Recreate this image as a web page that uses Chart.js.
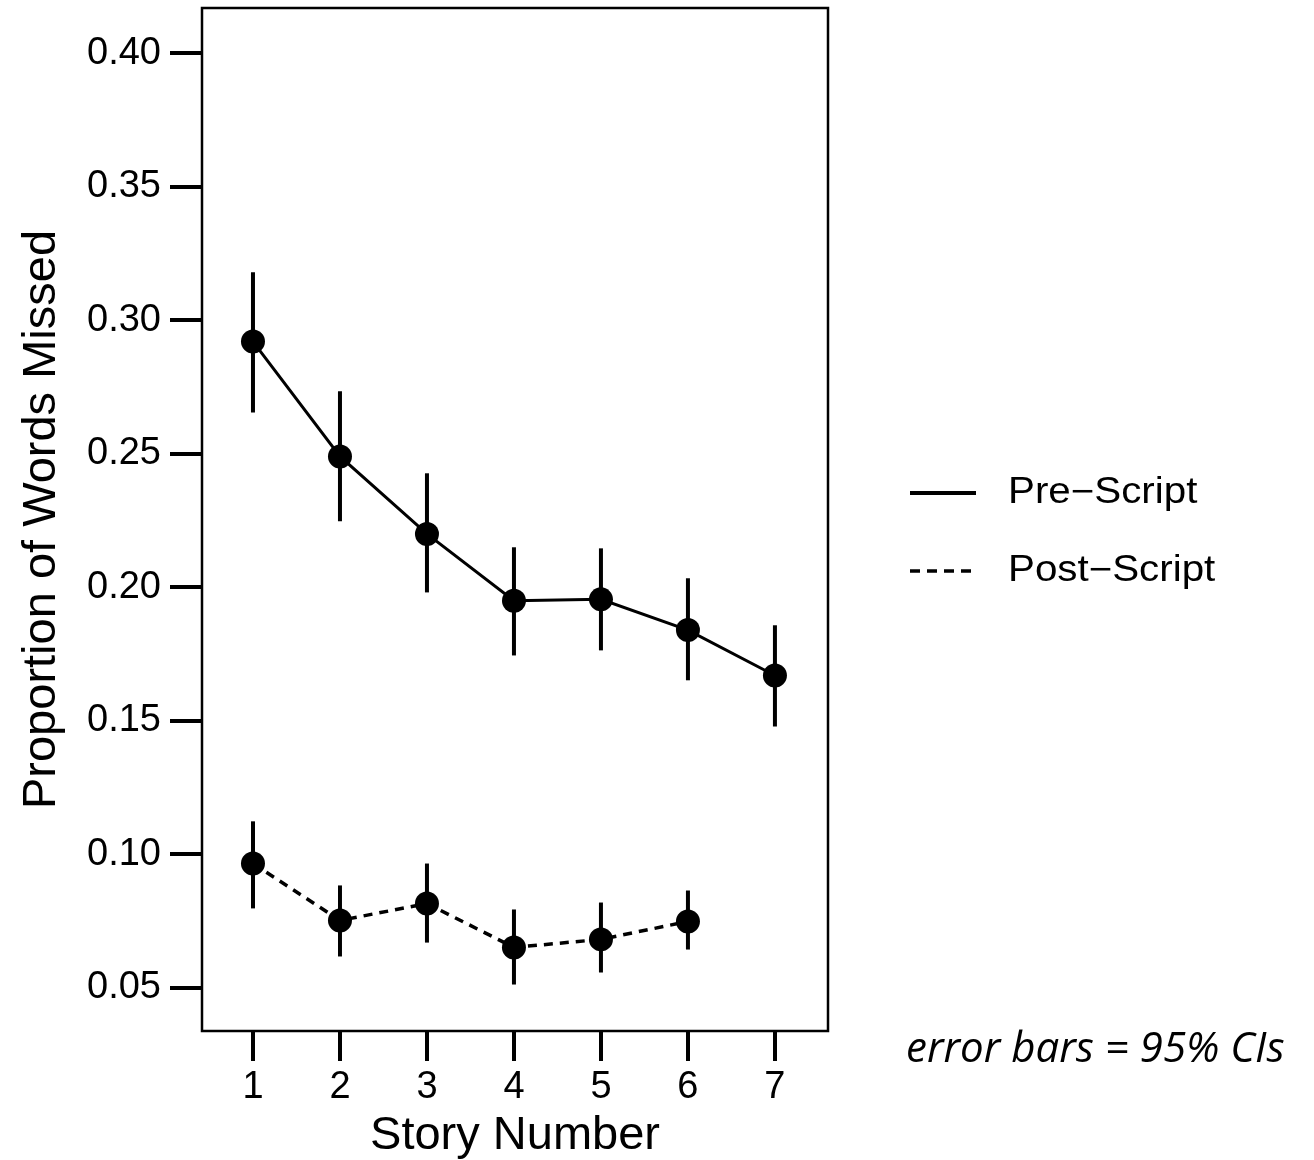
<!DOCTYPE html>
<html>
<head>
<meta charset="utf-8">
<script src="https://cdn.jsdelivr.net/npm/chart.js@4"></script>
<style>
  html, body { margin: 0; padding: 0; background: #fff; }
  #wrap { width: 1314px; height: 1160px; }
</style>
</head>
<body>
<div id="wrap"><canvas id="chart" width="1314" height="1160"></canvas></div>
<script>
// story numbers on the x axis
var stories = [1, 2, 3, 4, 5, 6, 7];
var yTickValues = [0.05, 0.10, 0.15, 0.20, 0.25, 0.30, 0.35, 0.40];

// pre-script: mean and 95% CI
var preMean = [0.292, 0.249, 0.220, 0.195, 0.1955, 0.184, 0.167];
var preLow  = [0.2655, 0.2247, 0.1981, 0.1745, 0.1764, 0.1652, 0.1479];
var preHigh = [0.318, 0.2734, 0.2427, 0.215, 0.2146, 0.2034, 0.1858];

// post-script: mean and 95% CI (no story 7)
var postStories = [1, 2, 3, 4, 5, 6];
var postMean = [0.0966, 0.0753, 0.0816, 0.0652, 0.0682, 0.0749];
var postLow  = [0.0798, 0.0618, 0.067, 0.0513, 0.0558, 0.0644];
var postHigh = [0.1124, 0.0884, 0.0966, 0.0794, 0.082, 0.0865];

var seriesNames = ["Pre\u2212Script", "Post\u2212Script"];

function toPoints(xs, ys, lo, hi) {
    var pts = [];
    for (var i = 0; i < ys.length; i++) {
        pts.push({x: xs[i], y: ys[i], lo: lo[i], hi: hi[i]});
    }
    return pts;
}

var tickFont = {family: "'Liberation Sans', Arial, sans-serif", size: 38};
var titleFont = {family: "'Liberation Sans', Arial, sans-serif", size: 47};

// vertical CI lines drawn through the scales
var errorBars = {
    id: 'errorBars',
    beforeDatasetsDraw: function (chart) {
        var ctx = chart.ctx;
        var xs = chart.scales.x, ys = chart.scales.y;
        ctx.save();
        ctx.strokeStyle = '#000';
        ctx.lineWidth = 4;
        chart.data.datasets.forEach(function (ds) {
            ds.data.forEach(function (p) {
                var px = xs.getPixelForValue(p.x);
                ctx.beginPath();
                ctx.moveTo(px, ys.getPixelForValue(p.lo));
                ctx.lineTo(px, ys.getPixelForValue(p.hi));
                ctx.stroke();
            });
        });
        ctx.restore();
    }
};

// full box round the plot, legend on the right and the CI note
var boxAndLegend = {
    id: 'boxAndLegend',
    afterDraw: function (chart) {
        var ctx = chart.ctx;
        var a = chart.chartArea;
        ctx.save();
        ctx.strokeStyle = '#000';
        ctx.lineWidth = 2.5;
        ctx.strokeRect(a.left, a.top, a.right - a.left, a.bottom - a.top);

        ctx.fillStyle = '#000';
        ctx.textBaseline = 'middle';
        ctx.lineWidth = 4;
        ctx.beginPath();
        ctx.moveTo(910, 493);
        ctx.lineTo(976, 493);
        ctx.stroke();

        ctx.lineWidth = 3.5;
        ctx.setLineDash([10, 7]);
        ctx.beginPath();
        ctx.moveTo(910, 571);
        ctx.lineTo(976, 571);
        ctx.stroke();
        ctx.setLineDash([]);

        // legend text is a little wide in the original
        ctx.font = "36px 'Liberation Sans', Arial, sans-serif";
        [[seriesNames[0], 493], [seriesNames[1], 571]].forEach(function (it) {
            ctx.save();
            ctx.translate(1008, it[1]);
            ctx.scale(1.12, 1);
            ctx.fillText(it[0], 0, 0);
            ctx.restore();
        });

        ctx.font = "italic 42px 'Open Sans', sans-serif";
        ctx.fillText("error bars = 95% CIs", 906, 1050);
        ctx.restore();
    }
};

var ctx = document.getElementById('chart').getContext('2d');
var chart = new Chart(ctx, {
    type: 'line',
    data: {
        datasets: [{
            label: seriesNames[0],
            data: toPoints(stories, preMean, preLow, preHigh),
            borderColor: '#000',
            backgroundColor: '#000',
            borderWidth: 3,
            pointRadius: 12,
            pointBorderWidth: 0,
            tension: 0
        }, {
            label: seriesNames[1],
            data: toPoints(postStories, postMean, postLow, postHigh),
            borderColor: '#000',
            backgroundColor: '#000',
            borderWidth: 3.5,
            borderDash: [9, 7],
            pointRadius: 12,
            pointBorderWidth: 0,
            tension: 0
        }]
    },
    plugins: [errorBars, boxAndLegend],
    options: {
        responsive: false,
        animation: false,
        layout: {autoPadding: false, padding: {top: 8, right: 486, left: 0, bottom: 0}},
        plugins: {legend: {display: false}, tooltip: {enabled: false}},
        scales: {
            x: {
                type: 'linear',
                min: 0.414,
                max: 7.61,
                afterBuildTicks: function (scale) {
                    scale.ticks = stories.map(function (v) { return {value: v}; });
                },
                afterFit: function (scale) {
                    scale.height = 129;
                    scale.paddingLeft = 0;
                    scale.paddingRight = 0;
                },
                border: {display: false},
                grid: {drawOnChartArea: false, color: '#000', lineWidth: 4, tickLength: 30},
                ticks: {color: '#000', font: tickFont, padding: 4, maxRotation: 0},
                title: {display: true, text: 'Story Number', color: '#000', font: titleFont, padding: {top: 0, bottom: -4}}
            },
            y: {
                type: 'linear',
                min: 0.0339,
                max: 0.4169,
                afterBuildTicks: function (scale) {
                    scale.ticks = yTickValues.map(function (v) { return {value: v}; });
                },
                afterFit: function (scale) {
                    scale.width = 202;
                    scale.paddingTop = 0;
                    scale.paddingBottom = 0;
                },
                border: {display: false},
                grid: {drawOnChartArea: false, color: '#000', lineWidth: 4, tickLength: 32},
                ticks: {
                    color: '#000', font: tickFont, padding: 9,
                    callback: function (v) { return v.toFixed(2); }
                },
                title: {display: true, text: 'Proportion of Words Missed', color: '#000', font: titleFont, padding: {top: 14, bottom: 0}}
            }
        }
    }
});
</script>
</body>
</html>
